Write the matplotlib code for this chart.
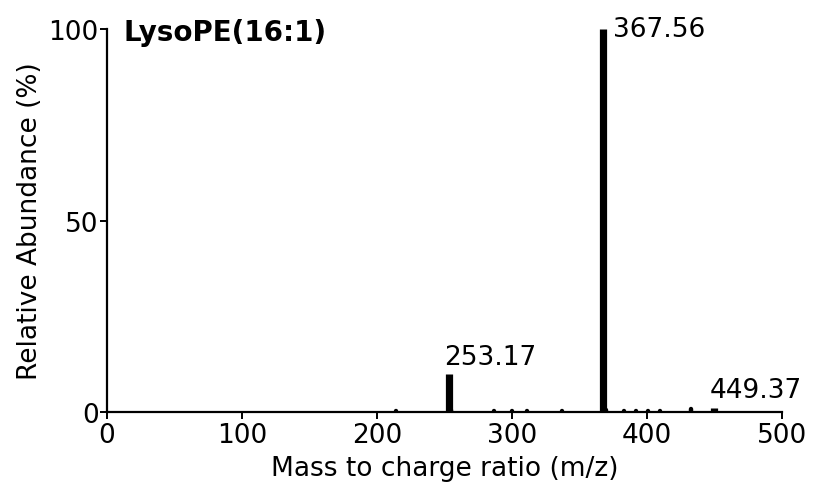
import matplotlib

matplotlib.use("Agg")
import matplotlib.pyplot as plt

# MS/MS spectrum of LysoPE(16:1): labelled fragments plus minor ions
label_mz = [253.17, 367.56, 449.37]
label_int = [10.0, 100.0, 1.2]
minor_mz = [214.0, 254.5, 287.0, 300.0, 311.0, 337.0, 369.5, 383.0, 392.0, 401.0, 410.0, 433.0]
minor_int = [0.25, 0.6, 0.25, 0.2, 0.35, 0.2, 0.6, 0.3, 0.25, 0.2, 0.3, 0.8]
compound = "LysoPE(16:1)"

plt.rcParams["font.family"] = ["Verdana", "DejaVu Sans"]
FS = 19

fig = plt.figure(figsize=(8.17, 4.89), dpi=100)
ax = fig.add_axes([0.131, 0.155, 0.826, 0.784])

ax.vlines(minor_mz, 0, minor_int, color="black", linewidth=3.2, capstyle="round")
ax.vlines(label_mz, 0, label_int, color="black", linewidth=5.2)

for mz, inten in zip(label_mz, label_int):
    if inten >= 99:
        ax.annotate(f"{mz:.2f}", (mz, inten), xytext=(7, 0),
                    textcoords="offset points", fontsize=FS, ha="left", va="center")
    else:
        ax.annotate(f"{mz:.2f}", (mz, inten), xytext=(-3, 3),
                    textcoords="offset points", fontsize=FS, ha="left", va="bottom")

ax.text(0.025, 0.993, compound, transform=ax.transAxes, fontsize=FS + 1,
        fontweight="bold", ha="left", va="center")

ax.set_xlim(0, 500)
ax.set_ylim(0, 100)
ax.set_xticks([0, 100, 200, 300, 400, 500])
ax.set_yticks([0, 50, 100])
ax.tick_params(labelsize=FS, length=5, width=1.4, pad=1)
ax.tick_params(axis="x", pad=2)
ax.set_xlabel("Mass to charge ratio (m/z)", fontsize=FS, labelpad=5)
ax.set_ylabel("Relative Abundance (%)", fontsize=FS, labelpad=4)

for side in ("top", "right"):
    ax.spines[side].set_visible(False)
for side in ("left", "bottom"):
    ax.spines[side].set_linewidth(1.6)

fig.savefig("out.png", dpi=100)
